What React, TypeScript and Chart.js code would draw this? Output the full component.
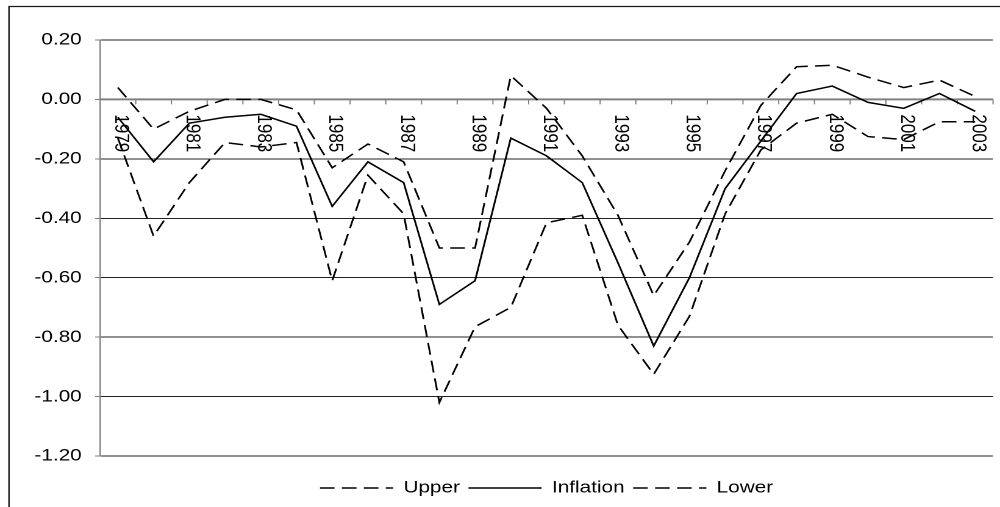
import React, { useEffect, useRef } from "react";
import { Chart, registerables } from "chart.js";

Chart.register(...registerables);

// ---- data ----
const YEARS: number[] = [
  1979, 1980, 1981, 1982, 1983, 1984, 1985, 1986, 1987, 1988, 1989, 1990, 1991,
  1992, 1993, 1994, 1995, 1996, 1997, 1998, 1999, 2000, 2001, 2002, 2003,
];

const UPPER: number[] = [
  0.04, -0.1, -0.04, 0.0, 0.0, -0.035, -0.23, -0.15, -0.21, -0.5, -0.5, 0.08,
  -0.03, -0.19, -0.39, -0.66, -0.48, -0.24, -0.02, 0.11, 0.115, 0.075, 0.04,
  0.065, 0.01,
];

const INFLATION: number[] = [
  -0.06, -0.21, -0.08, -0.06, -0.05, -0.09, -0.36, -0.21, -0.28, -0.69, -0.61,
  -0.13, -0.19, -0.28, -0.55, -0.83, -0.6, -0.3, -0.14, 0.02, 0.045, -0.01,
  -0.03, 0.02, -0.04,
];

const LOWER: number[] = [
  -0.13, -0.46, -0.28, -0.145, -0.16, -0.145, -0.61, -0.255, -0.385, -1.02,
  -0.765, -0.7, -0.415, -0.39, -0.76, -0.925, -0.73, -0.385, -0.17, -0.08,
  -0.05, -0.125, -0.135, -0.075, -0.075,
];

const SERIES_NAMES: string[] = ["Upper", "Inflation", "Lower"];

const Y_MIN = -1.2;
const Y_MAX = 0.2;
const Y_STEP = 0.2;

// ---- layout (logical canvas is stretched horizontally to the display width) ----
const DISPLAY_W = 1000;
const DISPLAY_H = 507;
const LOGICAL_W = 820;
const S = DISPLAY_W / LOGICAL_W;
const FONT = '"Liberation Sans", Arial, sans-serif';
const FONT_SIZE = 17;
const DASH = [12, 6];
const LINE_W = 1.5;

const frameAndAxisPlugin = {
  id: "frameAndAxis",
  beforeDraw(chart: any) {
    const ctx = chart.ctx;
    ctx.save();
    ctx.strokeStyle = "#1a1a1a";
    ctx.lineWidth = 1.2;
    ctx.beginPath();
    const bx = 9 / S;
    const by = 6.5;
    ctx.moveTo(bx, chart.height + 5);
    ctx.lineTo(bx, by);
    ctx.lineTo(chart.width + 5, by);
    ctx.stroke();
    ctx.restore();
  },
  beforeDatasetsDraw(chart: any) {
    const { ctx, chartArea } = chart;
    const x = chart.scales.x;
    const y = chart.scales.y;
    const y0 = y.getPixelForValue(0);
    const n = YEARS.length;
    const bw = x.getPixelForValue(1) - x.getPixelForValue(0);
    ctx.save();
    // tick marks on the zero axis
    ctx.strokeStyle = "#808080";
    ctx.lineWidth = 1;
    ctx.beginPath();
    for (let i = 0; i <= n; i++) {
      const px = x.getPixelForValue(0) - bw / 2 + i * bw;
      ctx.moveTo(px, y0);
      ctx.lineTo(px, y0 + 5);
    }
    ctx.stroke();
    // zero axis line
    ctx.lineWidth = 2;
    ctx.beginPath();
    ctx.moveTo(chartArea.left, y0);
    ctx.lineTo(chartArea.right, y0);
    ctx.stroke();
    // rotated year labels (every other year)
    ctx.fillStyle = "#000";
    ctx.font = `${FONT_SIZE}px ${FONT}`;
    ctx.textAlign = "left";
    ctx.textBaseline = "middle";
    YEARS.forEach((yr, i) => {
      if (i % 2 !== 0) return;
      const px = x.getPixelForValue(i);
      ctx.save();
      ctx.translate(px + 2.5, y0 + 15);
      ctx.rotate(Math.PI / 2);
      ctx.fillText(String(yr), 0, 0);
      ctx.restore();
    });
    ctx.restore();
  },
};

export default function App() {
  const ref = useRef<HTMLCanvasElement | null>(null);

  useEffect(() => {
    if (!ref.current) return;
    Chart.defaults.font.family = FONT;
    const common = {
      borderColor: "#000",
      backgroundColor: "#000",
      borderWidth: LINE_W,
      pointRadius: 0,
      pointHoverRadius: 0,
      fill: false,
      tension: 0,
    };
    const chart = new Chart(ref.current, {
      type: "line",
      data: {
        labels: YEARS.map(String),
        datasets: [
          { ...common, label: SERIES_NAMES[0], data: UPPER, borderDash: DASH },
          { ...common, label: SERIES_NAMES[1], data: INFLATION },
          { ...common, label: SERIES_NAMES[2], data: LOWER, borderDash: DASH },
        ],
      },
      options: {
        responsive: false,
        maintainAspectRatio: false,
        devicePixelRatio: 2,
        animation: false,
        events: [],
        layout: { padding: { top: 40, left: 0, right: 5.7, bottom: 0.5 } },
        scales: {
          x: {
            type: "category",
            offset: true,
            display: true,
            position: "bottom",
            ticks: { display: false },
            grid: {
              display: true,
              drawOnChartArea: false,
              drawTicks: true,
              tickLength: 16.5,
              tickColor: "rgba(0,0,0,0)",
            },
            border: { display: false },
          },
          y: {
            type: "linear",
            min: Y_MIN,
            max: Y_MAX,
            afterFit(scale: any) {
              scale.width = 82;
            },
            ticks: {
              stepSize: Y_STEP,
              padding: 11,
              color: "#000",
              font: { size: FONT_SIZE, family: FONT },
              callback: (v: any) => {
                const n = Math.abs(Number(v)) < 1e-9 ? 0 : Number(v);
                return n.toFixed(2);
              },
            },
            grid: {
              color: (c: any) =>
                c.tick && Math.abs(c.tick.value) < 1e-9 ? "rgba(0,0,0,0)" : "#222",
              lineWidth: 1,
              drawTicks: true,
              tickLength: 4,
              tickColor: "#808080",
            },
            border: { display: true, color: "#808080", width: 1.2 },
          },
        },
        plugins: {
          title: { display: false },
          tooltip: { enabled: false },
          legend: {
            display: true,
            position: "bottom",
            fullSize: false,
            labels: {
              usePointStyle: true,
              pointStyle: "line",
              pointStyleWidth: 60,
              padding: 7,
              color: "#000",
              font: { size: FONT_SIZE, family: FONT },
              generateLabels: (ch: any) => {
                const base = (Chart.defaults.plugins.legend.labels as any).generateLabels(ch);
                return base.map((it: any) => {
                  const ds: any = ch.data.datasets[it.datasetIndex];
                  return {
                    ...it,
                    pointStyle: "line",
                    lineDash: ds.borderDash || [],
                    lineWidth: LINE_W,
                    strokeStyle: "#000",
                    fillStyle: "#000",
                  };
                });
              },
            },
          },
        },
      },
      plugins: [frameAndAxisPlugin],
    } as any);
    return () => chart.destroy();
  }, []);

  return (
    <canvas
      ref={ref}
      width={LOGICAL_W}
      height={DISPLAY_H}
      style={{
        position: "fixed",
        left: 0,
        top: 0,
        width: `${DISPLAY_W}px`,
        height: `${DISPLAY_H}px`,
      }}
    />
  );
}
